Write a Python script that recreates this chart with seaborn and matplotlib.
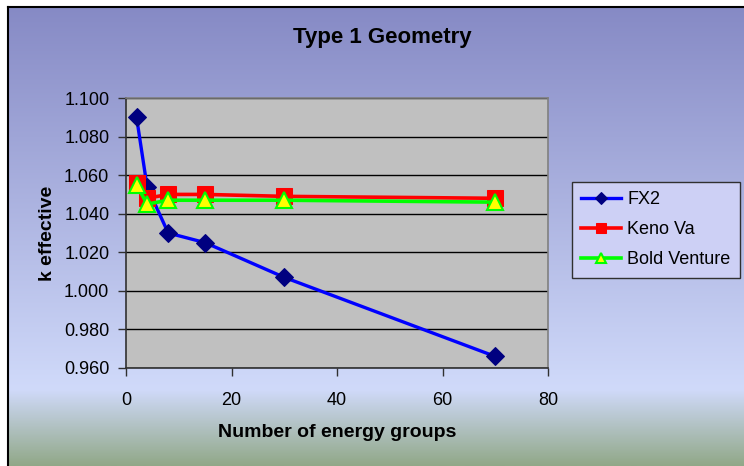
import numpy as np
import pandas as pd
import matplotlib
matplotlib.use("Agg")
import matplotlib.pyplot as plt
import seaborn as sns

# ---- data ----
groups = [2, 4, 8, 15, 30, 70]
fx2 = [1.090, 1.054, 1.030, 1.025, 1.007, 0.966]
keno_va = [1.056, 1.048, 1.050, 1.050, 1.049, 1.048]
bold_venture = [1.055, 1.045, 1.047, 1.047, 1.047, 1.046]
series_names = ["FX2", "Keno Va", "Bold Venture"]
y_ticks = [0.960, 0.980, 1.000, 1.020, 1.040, 1.060, 1.080, 1.100]
x_ticks = [0, 20, 40, 60, 80]

plt.rcParams['font.family'] = ['Liberation Sans', 'DejaVu Sans']

W, H = 744, 466
fig = plt.figure(figsize=(W / 100, H / 100), dpi=100)
fig.patch.set_facecolor('white')

# background gradient panel
bg = fig.add_axes([8 / W, 0, 1 - 8 / W, 1 - 7 / H], zorder=0)
stops = [0.0, 0.834, 1.0]
cols = np.array([[134, 138, 197], [208, 218, 250], [145, 168, 136]]) / 255.0
t = np.linspace(0, 1, 400)
grad = np.stack([np.interp(t, stops, cols[:, i]) for i in range(3)], axis=-1)
bg.imshow(grad[:, None, :], aspect='auto', extent=[0, 1, 1, 0])
bg.set_xlim(0, 1)
bg.set_ylim(1, 0)
bg.set_xticks([])
bg.set_yticks([])
for s in ['right', 'bottom']:
    bg.spines[s].set_visible(False)
for s in ['left', 'top']:
    bg.spines[s].set_color('black')
    bg.spines[s].set_linewidth(1.5)

# main axes
L, R, T, B = 126, 548, 98, 368
ax = fig.add_axes([L / W, 1 - B / H, (R - L) / W, (B - T) / H], zorder=2)
ax.set_facecolor('#c0c0c0')

df = pd.DataFrame({"groups": groups, "FX2": fx2, "Keno Va": keno_va,
                   "Bold Venture": bold_venture})

sns.lineplot(data=df, x="groups", y="FX2", ax=ax, color='#0000ff', lw=2.4,
             marker='D', markersize=9, markerfacecolor='#000080',
             markeredgecolor='#000080', label=series_names[0], zorder=3)
sns.lineplot(data=df, x="groups", y="Keno Va", ax=ax, color='#ff0000', lw=2.6,
             marker='s', markersize=11, markerfacecolor='#ff0000',
             markeredgecolor='#ff0000', label=series_names[1], zorder=4)
sns.lineplot(data=df, x="groups", y="Bold Venture", ax=ax, color='#00ff00', lw=2.6,
             marker='^', markersize=11, markerfacecolor='#ffff00',
             markeredgecolor='#00ff00', markeredgewidth=1.5,
             label=series_names[2], zorder=5)

ax.set_xlim(0, 80)
ax.set_ylim(0.96, 1.10)
ax.set_xticks(x_ticks)
ax.set_yticks(y_ticks)
ax.set_yticklabels([f"{v:.3f}" for v in y_ticks])
ax.set_xticklabels([str(v) for v in x_ticks])
ax.yaxis.grid(True, color='black', lw=1.0)
ax.xaxis.grid(False)
ax.set_axisbelow(True)
ax.tick_params(axis='both', direction='out', length=6, width=1, color='#303030',
               labelsize=13, labelcolor='black')
ax.tick_params(axis='y', pad=6)
ax.tick_params(axis='x', pad=11)
ax.set_xlabel('')
ax.set_ylabel('')
for s in ['left', 'bottom']:
    ax.spines[s].set_color('#303030')
    ax.spines[s].set_linewidth(1.2)
for s in ['top', 'right']:
    ax.spines[s].set_color('#808080')
    ax.spines[s].set_linewidth(1.2)

leg = ax.legend(loc='upper left', bbox_to_anchor=(572 / W, 1 - 182 / H),
                bbox_transform=fig.transFigure, fontsize=13, frameon=True,
                fancybox=False, edgecolor='#303030', facecolor='#cdd0f5',
                framealpha=1.0, handlelength=2.2, handletextpad=0.35,
                labelspacing=0.72, borderpad=0.52, borderaxespad=0,
                markerscale=0.7)
leg.get_frame().set_linewidth(1.0)

fig.text(382 / W, 1 - 43 / H, 'Type 1 Geometry', ha='center', va='baseline',
         fontsize=16, fontweight='bold', zorder=3)
fig.text(337 / W, 1 - 437 / H, 'Number of energy groups', ha='center',
         va='baseline', fontsize=14, fontweight='bold', zorder=3)
fig.text(52 / W, 1 - 233 / H, 'k effective', ha='center', va='baseline',
         rotation=90, rotation_mode='anchor', fontsize=14, fontweight='bold',
         zorder=3)

fig.savefig('out.png', dpi=100)
